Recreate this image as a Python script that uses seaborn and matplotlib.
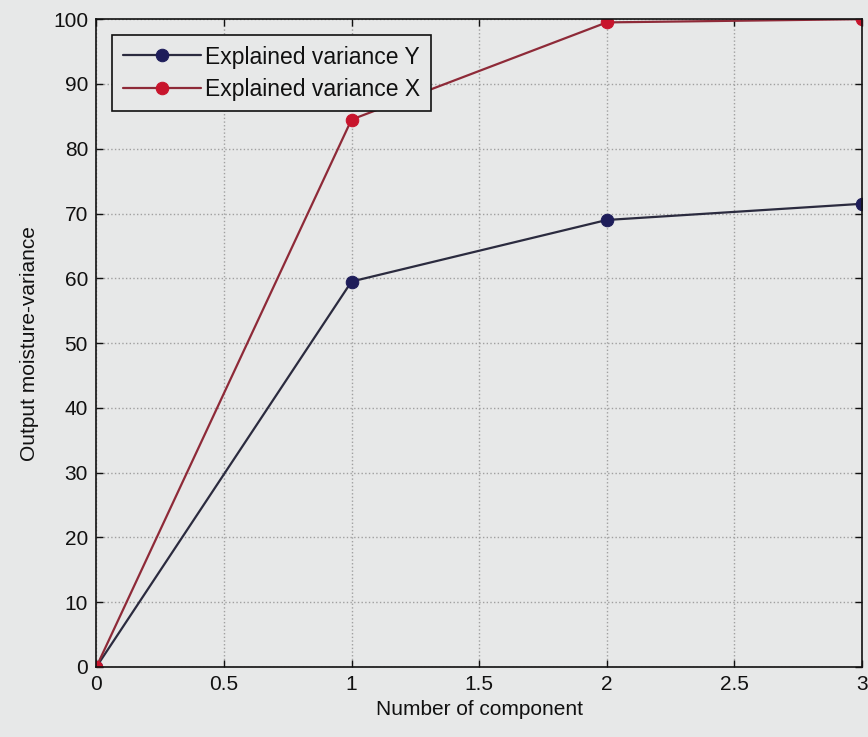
import seaborn as sns
import matplotlib.pyplot as plt
import pandas as pd

# values
components = [0, 1, 2, 3]
var_y = [0, 59.5, 69, 71.5]
var_x = [0, 84.5, 99.5, 100]

df = pd.DataFrame({"component": components, "Y": var_y, "X": var_x})

sns.set_style("ticks")
plt.rcParams['font.family'] = ['Liberation Sans', 'DejaVu Sans']
plt.rcParams['text.color'] = "#111111"
plt.rcParams['axes.labelcolor'] = "#111111"
plt.rcParams['xtick.color'] = "#111111"
plt.rcParams['ytick.color'] = "#111111"
bg = "#e7e8e8"

fig = plt.figure(figsize=(8.68, 7.37), dpi=100, facecolor=bg)
ax = fig.add_axes([0.111, 0.095, 0.882, 0.879], facecolor=bg)

sns.lineplot(data=df, x="component", y="Y", ax=ax, color="#2b2b3f", linewidth=1.6,
             marker="o", markersize=9, markerfacecolor="#1e1d5a", markeredgecolor="#1e1d5a",
             label="Explained variance Y")
sns.lineplot(data=df, x="component", y="X", ax=ax, color="#8e2a38", linewidth=1.6,
             marker="o", markersize=9, markerfacecolor="#c8142c", markeredgecolor="#c8142c",
             label="Explained variance X")

ax.set_xlim(0, 3)
ax.set_ylim(0, 100)
ax.set_xticks([0, 0.5, 1, 1.5, 2, 2.5, 3])
ax.set_xticklabels(["0", "0.5", "1", "1.5", "2", "2.5", "3"])
ax.set_yticks(range(0, 101, 10))
ax.tick_params(direction="in", top=True, right=True, labelsize=15, length=5, width=1, pad=6)
ax.grid(True, linestyle=":", color="#a0a0a0", linewidth=1)
for s in ax.spines.values():
    s.set_color("#111111")
    s.set_linewidth(1.2)
    s.set_visible(True)

ax.set_xlabel("Number of component", size=15, labelpad=4)
ax.set_ylabel("Output moisture-variance", size=15, labelpad=10)

leg = ax.legend(loc="upper left", fontsize=16.5, handlelength=3.4, frameon=True, fancybox=False,
                borderaxespad=0.7, borderpad=0.45, labelspacing=0.4, handletextpad=0.2)
leg.get_frame().set_edgecolor("#111111")
leg.get_frame().set_facecolor(bg)
leg.get_frame().set_alpha(1)
leg.get_frame().set_linewidth(1.2)

fig.savefig("out.png", dpi=100, facecolor=bg)
